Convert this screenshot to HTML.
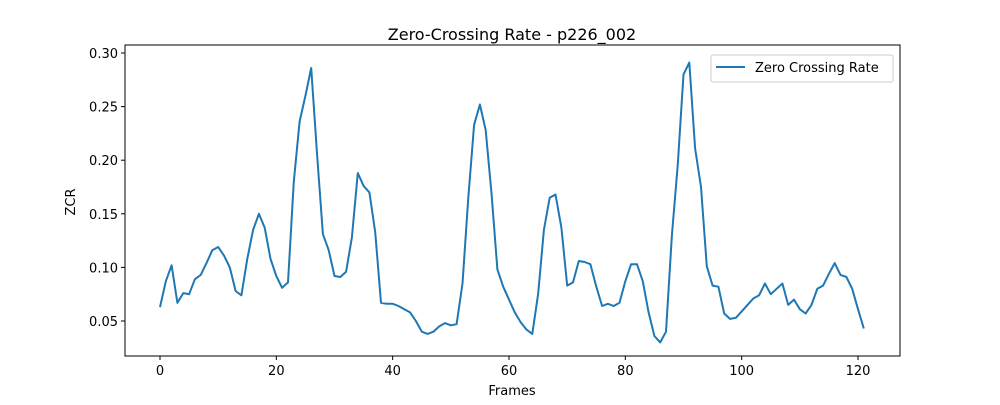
<!DOCTYPE html>
<html><head><meta charset="utf-8"><style>
body{margin:0;background:#fff;font-family:"Liberation Sans","DejaVu Sans",sans-serif}
svg text{font-family:"DejaVu Sans","Liberation Sans",sans-serif}
</style></head><body>
<svg id="chart" width="1000" height="400">
<rect x="0" y="0" width="1000" height="400" fill="#fff"/>
<text x="512" y="40" font-size="16" text-anchor="middle">Zero-Crossing Rate - p226_002</text>
<g id="axes"></g>
<polyline id="line" fill="none" stroke="#1f77b4" stroke-width="2" stroke-linejoin="round"/>
<rect x="125" y="45" width="775" height="311" fill="none" stroke="#000" stroke-width="1"/>
<text x="512" y="395" font-size="13" text-anchor="middle">Frames</text>
<text x="75" y="202" font-size="13" text-anchor="middle" transform="rotate(-90 75 202)">ZCR</text>
<g>
<rect x="711" y="55" width="182" height="27" fill="#fff" stroke="#ccc" rx="2"/>
<line x1="716" y1="67" x2="745" y2="67" stroke="#1f77b4" stroke-width="2"/>
<text x="755" y="72" font-size="13">Zero Crossing Rate</text>
</g>
</svg>
<script>
const zcrValues=[0.063,0.087,0.102,0.067,0.076,0.075,0.089,0.093,0.104,0.116,0.119,0.111,0.100,0.078,0.074,0.108,0.135,0.150,0.137,0.108,0.092,0.081,0.086,0.180,0.236,0.260,0.286,0.205,0.131,0.116,0.092,0.091,0.096,0.128,0.188,0.176,0.170,0.133,0.067,0.066,0.066,0.064,0.061,0.058,0.050,0.040,0.038,0.040,0.045,0.048,0.046,0.047,0.085,0.165,0.233,0.252,0.228,0.168,0.098,0.082,0.070,0.058,0.049,0.042,0.038,0.075,0.135,0.165,0.168,0.137,0.083,0.086,0.106,0.105,0.103,0.082,0.064,0.066,0.064,0.067,0.087,0.103,0.103,0.087,0.058,0.036,0.030,0.040,0.130,0.195,0.280,0.291,0.211,0.175,0.101,0.083,0.082,0.057,0.052,0.053,0.059,0.065,0.071,0.074,0.085,0.075,0.080,0.085,0.065,0.070,0.061,0.057,0.065,0.080,0.083,0.094,0.104,0.093,0.091,0.080,0.061,0.043];
const xTicks=[0,20,40,60,80,100,120];
const yTicks=[0.05,0.10,0.15,0.20,0.25,0.30];
const xs=v=>160+(v-0)*(858-160)/120;
const ys=v=>321-(v-0.05)*(321-53)/0.25;
const NS="http://www.w3.org/2000/svg";
const axes=document.getElementById('axes');
xTicks.forEach(t=>{
  const l=document.createElementNS(NS,'line');
  l.setAttribute('x1',xs(t));l.setAttribute('x2',xs(t));l.setAttribute('y1',356);l.setAttribute('y2',360);l.setAttribute('stroke','#000');
  
  
  axes.appendChild(l);
  const tx=document.createElementNS(NS,'text');
  tx.setAttribute('x',xs(t));tx.setAttribute('y',375);tx.setAttribute('font-size','13');tx.setAttribute('text-anchor','middle');
  tx.textContent=t;
  
  
  axes.appendChild(tx);
});
yTicks.forEach(t=>{
  const l=document.createElementNS(NS,'line');
  l.setAttribute('x1',121);l.setAttribute('x2',125);l.setAttribute('y1',ys(t));l.setAttribute('y2',ys(t));l.setAttribute('stroke','#000');
  
  
  axes.appendChild(l);
  const tx=document.createElementNS(NS,'text');
  tx.setAttribute('x',118);tx.setAttribute('y',ys(t)+5);tx.setAttribute('font-size','13');tx.setAttribute('text-anchor','end');
  tx.textContent=t.toFixed(2);
  
  
  axes.appendChild(tx);
});
document.getElementById('line').setAttribute('points',zcrValues.map((v,i)=>xs(i).toFixed(1)+','+ys(v).toFixed(1)).join(' '));
</script>
</body></html>
